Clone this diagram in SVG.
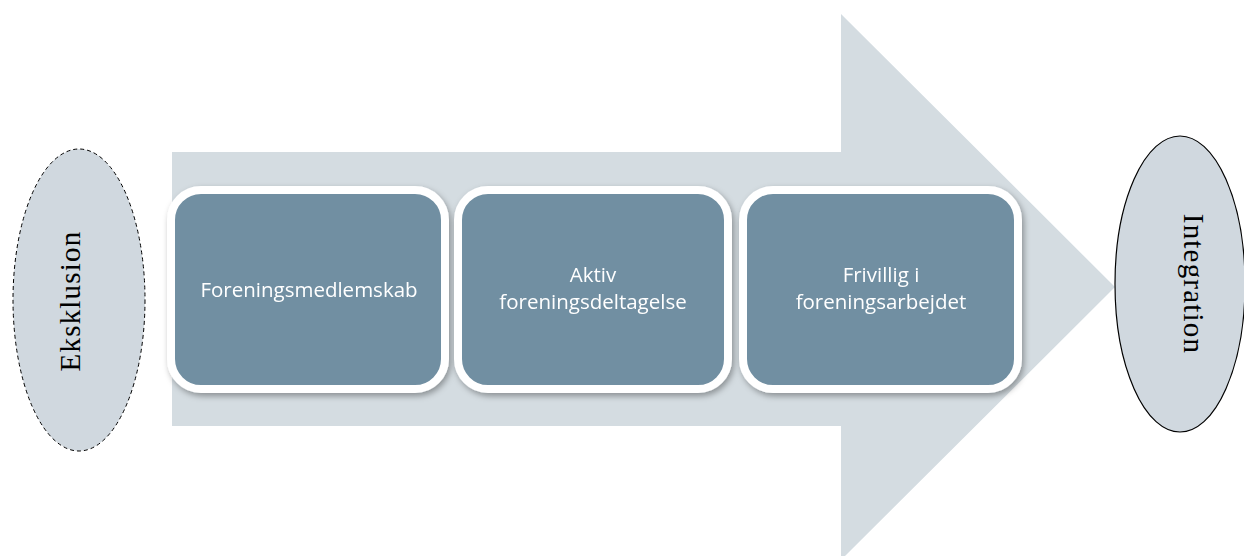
<svg xmlns="http://www.w3.org/2000/svg" width="1244" height="556" viewBox="0 0 1244 556">
<style>
.box{fill:#718fa2;stroke:#ffffff;stroke-width:8}
.bt{fill:#ffffff;font-family:"Open Sans","Noto Sans",sans-serif;font-size:20.5px;text-anchor:middle}
.et{fill:#000000;font-family:"Liberation Serif",serif;font-size:29px;letter-spacing:1.2px;text-anchor:middle}
</style>
<defs>
<filter id="sh" x="-10%" y="-10%" width="125%" height="130%">
<feDropShadow dx="2" dy="3" stdDeviation="3" flood-color="#000" flood-opacity="0.35"/>
</filter>
</defs>
<rect width="1244" height="556" fill="#ffffff"/>
<g id="arrow">
<polygon points="172,152 841,152 841,14 1115,287 841,560 841,426 172,426" fill="#d4dce1"/>
</g>
<g id="exklusion">
<ellipse cx="79" cy="300" rx="66" ry="151" fill="#d0d8df" stroke="#000" stroke-width="1" stroke-dasharray="4,3"/>
<text class="et" transform="translate(79,301) rotate(-90)" dy="1">Eksklusion</text>
</g>
<g id="integration">
<ellipse cx="1180" cy="284" rx="65" ry="148" fill="#d0d8df" stroke="#000" stroke-width="1.2"/>
<text class="et" transform="translate(1180,284) rotate(90)" dy="-4">Integration</text>
</g>
<g id="n1" filter="url(#sh)">
<rect class="box" x="171" y="190" width="274" height="199" rx="30"/>
<text class="bt" x="309" y="297">Foreningsmedlemskab</text>
</g>
<g id="n2" filter="url(#sh)">
<rect class="box" x="458" y="190" width="270" height="199" rx="30"/>
<text class="bt" x="593" y="282">Aktiv</text>
<text class="bt" x="593" y="309">foreningsdeltagelse</text>
</g>
<g id="n3" filter="url(#sh)">
<rect class="box" x="743" y="190" width="275" height="199" rx="30"/>
<text class="bt" x="881" y="282">Frivillig i</text>
<text class="bt" x="881" y="309">foreningsarbejdet</text>
</g>
<g id="connectors"></g>
</svg>
